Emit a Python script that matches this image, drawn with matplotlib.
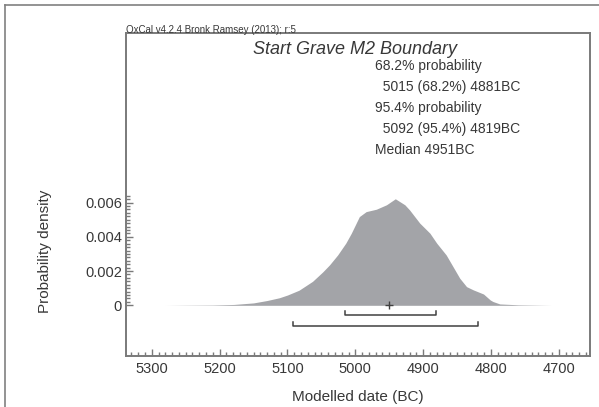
import numpy as np
import matplotlib
matplotlib.use("Agg")
import matplotlib.pyplot as plt
from matplotlib.lines import Line2D
from matplotlib.ticker import FixedLocator

plt.rcParams['font.family'] = ['Liberation Sans', 'DejaVu Sans']

# ---------------------------------------------------------
# data
# ---------------------------------------------------------
dates = [5280, 5250, 5210, 5179, 5150, 5130, 5112, 5100, 5083, 5063, 5048, 5038,
         5026, 5014, 5006, 4994, 4984, 4969, 4954, 4941, 4927, 4920, 4905, 4890,
         4880, 4866, 4856, 4846, 4836, 4826, 4816, 4811, 4801, 4797, 4787, 4760, 4711]
density = [0.0, 0.00001, 0.00002, 0.00005, 0.00014, 0.00028, 0.00044, 0.0006, 0.00088,
           0.0014, 0.00195, 0.00236, 0.00294, 0.00363, 0.0042, 0.00518, 0.00547, 0.00561,
           0.00587, 0.00622, 0.00587, 0.00557, 0.0048, 0.00421, 0.00363, 0.00294, 0.00226,
           0.00158, 0.00109, 0.0009, 0.00074, 0.00066, 0.00031, 0.00022, 0.00008, 0.00003, 0.0]

range_68 = (5015, 4881)
range_95 = (5092, 4819)
median = 4951

x_ticks = [5300, 5200, 5100, 5000, 4900, 4800, 4700]
y_ticks = [0, 0.002, 0.004, 0.006]
y_tick_labels = ["0", "0.002", "0.004", "0.006"]

title = "Start Grave M2 Boundary"
info_lines = ["68.2% probability", "  5015 (68.2%) 4881BC",
              "95.4% probability", "  5092 (95.4%) 4819BC", "Median 4951BC"]

# ---------------------------------------------------------
# figure
# ---------------------------------------------------------
W, H = 599, 407
fig = plt.figure(figsize=(W / 100, H / 100), dpi=100)
ax = fig.add_axes([126 / W, 1 - 356 / H, (590 - 126) / W, (356 - 33) / H])

frame_col = "#7a7a7a"
text_col = "#383838"

ax.fill_between(dates, density, 0, color="#a3a4a8", linewidth=0)

# range brackets
hook = 0.00024
for (a, b), yb in [(range_68, -0.00057), (range_95, -0.00119)]:
    ax.plot([a, a, b, b], [yb + hook, yb, yb, yb + hook], color="#404040", lw=1.1)
ax.plot([median], [0.00002], marker="+", color="#404040", ms=6, mew=1.0)

ax.set_xlim(5338, 4654)
ax.set_ylim(-0.00296, 0.0159)

ax.xaxis.set_major_locator(FixedLocator(x_ticks))
ax.xaxis.set_minor_locator(FixedLocator(list(range(5330, 4650, -10))))
ax.yaxis.set_major_locator(FixedLocator(y_ticks))
ax.yaxis.set_minor_locator(FixedLocator([i * 0.0002 for i in range(33)]))
ax.set_yticklabels(y_tick_labels)

ax.tick_params(which="both", direction="in", color=frame_col, width=1.0,
               labelcolor=text_col, labelsize=10.5)
ax.tick_params(which="major", length=5)
ax.tick_params(which="minor", length=3)
ax.tick_params(axis="x", pad=4)
ax.tick_params(axis="y", pad=3)

for sp in ax.spines.values():
    sp.set_color(frame_col)
    sp.set_linewidth(1.4)

# texts
fig.text(126 / W, 1 - 33 / H, "OxCal v4.2.4 Bronk Ramsey (2013); r:5", fontsize=7,
         color=text_col, ha="left", va="baseline")
fig.text(355 / W, 1 - 54 / H, title, fontsize=13, style="italic", color=text_col,
         ha="center", va="baseline")
baselines = [70, 91, 112, 133, 154]
for line, yb in zip(info_lines, baselines):
    fig.text(375 / W, 1 - yb / H, line, fontsize=10, color=text_col,
             ha="left", va="baseline")

fig.text(45 / W, 1 - 251 / H, "Probability density", fontsize=11, color=text_col,
         rotation=90, ha="center", va="center")
fig.text(358 / W, 1 - 397 / H, "Modelled date (BC)", fontsize=11, color=text_col,
         ha="center", va="center")

# outer border (top and left only)
fig.add_artist(Line2D([5 / W, 1], [1 - 5 / H, 1 - 5 / H], color="#808080", lw=1.2,
                      transform=fig.transFigure))
fig.add_artist(Line2D([5 / W, 5 / W], [0, 1 - 5 / H], color="#808080", lw=1.2,
                      transform=fig.transFigure))

fig.savefig("out.png", dpi=100)
